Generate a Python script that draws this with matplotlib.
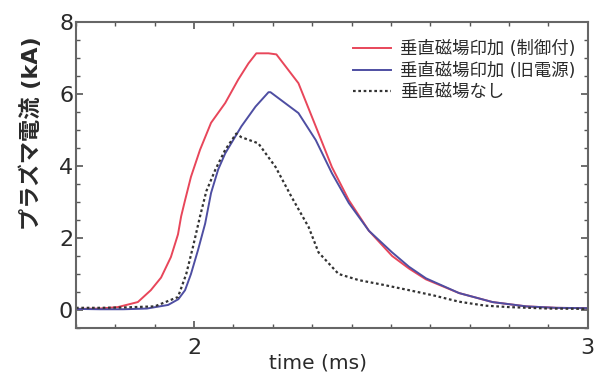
import numpy as np
import matplotlib
matplotlib.use("Agg")
import matplotlib.pyplot as plt
from matplotlib.ticker import MultipleLocator, FixedLocator

plt.rcParams['font.family'] = ['DejaVu Sans', 'Noto Sans CJK JP']

# Data (time in ms, current in kA)
t_red = [1.70, 1.76, 1.806, 1.857, 1.89, 1.916, 1.941, 1.959, 1.967, 1.977, 1.992, 2.015,
         2.043, 2.079, 2.112, 2.138, 2.158, 2.189, 2.209, 2.265, 2.309, 2.35, 2.393,
         2.444, 2.503, 2.546, 2.589, 2.673, 2.758, 2.844, 2.92, 3.0]
v_red = [0.03, 0.04, 0.08, 0.22, 0.55, 0.9, 1.47, 2.1, 2.6, 3.05, 3.7, 4.45,
         5.2, 5.75, 6.4, 6.85, 7.13, 7.13, 7.1, 6.3, 5.1, 3.97, 3.05,
         2.2, 1.5, 1.15, 0.85, 0.47, 0.22, 0.1, 0.06, 0.05]

t_blue = [1.70, 1.76, 1.82, 1.88, 1.934, 1.96, 1.977, 1.992, 2.010, 2.028, 2.043, 2.061,
          2.079, 2.12, 2.156, 2.189, 2.194, 2.265, 2.309, 2.35, 2.393, 2.444, 2.503,
          2.546, 2.589, 2.673, 2.758, 2.844, 2.92, 3.0]
v_blue = [0.03, 0.02, 0.02, 0.04, 0.14, 0.3, 0.55, 1.0, 1.67, 2.4, 3.25, 3.9,
          4.35, 5.1, 5.65, 6.05, 6.05, 5.47, 4.72, 3.8, 2.97, 2.2, 1.6,
          1.2, 0.88, 0.47, 0.22, 0.1, 0.06, 0.05]

t_none = [1.70, 1.76, 1.82, 1.90, 1.959, 1.980, 1.997, 2.015, 2.031, 2.054, 2.079, 2.107,
          2.12, 2.163, 2.207, 2.247, 2.291, 2.316, 2.367, 2.418, 2.480, 2.546, 2.61,
          2.673, 2.74, 2.80, 2.90, 3.0]
v_none = [0.06, 0.06, 0.07, 0.1, 0.36, 1.0, 1.75, 2.6, 3.3, 3.9, 4.45, 4.9,
          4.8, 4.63, 3.97, 3.15, 2.3, 1.6, 1.0, 0.83, 0.7, 0.55, 0.4,
          0.23, 0.12, 0.08, 0.04, 0.03]

labels = ['垂直磁場印加 (制御付)', '垂直磁場印加 (旧電源)', '垂直磁場なし']

fig = plt.figure(figsize=(6.01, 3.76), dpi=100)
ax = fig.add_axes([0.1265, 0.1277, 0.8515, 0.8138])

ax.plot(t_red, v_red, color='#e8465a', lw=1.4, label=labels[0])
ax.plot(t_blue, v_blue, color='#4e4ea2', lw=1.4, label=labels[1])
ax.plot(t_none, v_none, color='#333333', lw=1.6, ls=(0, (1.2, 1.2)), label=labels[2])

ax.set_xlim(1.7, 3.0)
ax.set_ylim(-0.5, 8)
ax.xaxis.set_major_locator(FixedLocator([2, 3]))
ax.xaxis.set_minor_locator(MultipleLocator(0.1))
ax.yaxis.set_major_locator(MultipleLocator(2))
ax.yaxis.set_minor_locator(MultipleLocator(0.5))
ax.tick_params(which='both', direction='in', top=True, right=True, color='#555555')
ax.tick_params(which='major', length=5, width=1.2, labelsize=16, labelcolor='#2a2a2a')
ax.tick_params(which='minor', length=3, width=1.0)
ax.tick_params(axis='x', which='major', pad=7)
ax.tick_params(axis='y', which='major', pad=2)
for s in ax.spines.values():
    s.set_color('#666666')
    s.set_linewidth(1.5)

ax.set_xlabel('time (ms)', fontsize=14.5, color='#2a2a2a')
ax.xaxis.set_label_coords(0.473, -0.082)
ax.set_ylabel('プラズマ電流 (kA)', fontsize=16, color='#2a2a2a', fontweight='bold')
ax.yaxis.set_label_coords(-0.066, 0.637)

leg = ax.legend(loc='upper left', bbox_to_anchor=(0.541, 0.94), frameon=False, fontsize=12.5,
                handlelength=2.2, handletextpad=0.5, labelspacing=0.2,
                borderpad=0, borderaxespad=0)
for txt in leg.get_texts():
    txt.set_color('#2a2a2a')

fig.savefig('out.png', dpi=100)
